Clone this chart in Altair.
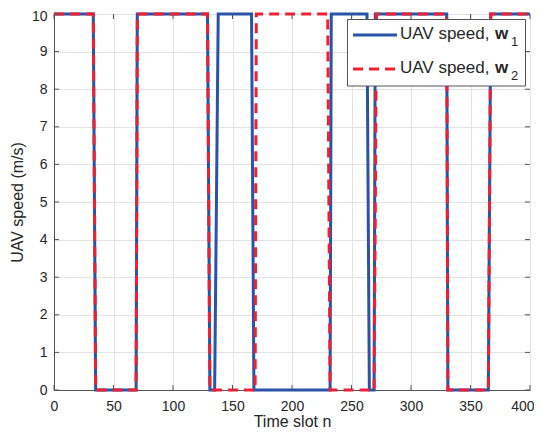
import altair as alt
import pandas as pd

# Data
w1_n = [0, 33, 35, 69, 70, 129, 131, 135, 138, 166, 168, 232, 233, 263, 265, 269, 270, 330, 331, 365, 367, 400]
w1_v = [10, 10, 0, 0, 10, 10, 0, 0, 10, 10, 0, 0, 10, 10, 0, 0, 10, 10, 0, 0, 10, 10]
w2_n = [0, 33, 35, 69, 70, 129, 131, 169, 170, 230, 232, 269, 271, 330, 331, 365, 367, 400]
w2_v = [10, 10, 0, 0, 10, 10, 0, 0, 10, 10, 0, 0, 10, 10, 0, 0, 10, 10]
x_ticks = [0, 50, 100, 150, 200, 250, 300, 350, 400]
y_ticks = [0, 1, 2, 3, 4, 5, 6, 7, 8, 9, 10]
series_labels = ["UAV speed, ", "UAV speed, "]

W, H = 476, 376
BLUE = "#2853A8"
RED = "#F02034"
AX = "#555555"
TXT = "#262626"
FONT = "Liberation Sans"

df1 = pd.DataFrame({"n": w1_n, "v": w1_v})
df2 = pd.DataFrame({"n": w2_n, "v": w2_v})
xt = pd.DataFrame({"n": x_ticks})
yt = pd.DataFrame({"v": y_ticks})
one = pd.DataFrame({"a": [0]})

xs = alt.Scale(domain=[0, 400], nice=False, zero=False)
ys = alt.Scale(domain=[0, 10], nice=False, zero=False)

axis_x = alt.Axis(values=x_ticks, title="Time slot n", grid=True, gridColor="#e3e3e3",
                  domainColor=AX, tickSize=0, labelFontSize=14, labelColor=TXT,
                  labelPadding=9, titleFontSize=16, titleFontWeight="normal",
                  titleColor=TXT, titlePadding=0, labelFont=FONT, titleFont=FONT,
                  labelOverlap=False,
                  labelAlign={"expr": "datum.value == 400 ? 'right' : 'center'"},
                  labelOffset={"expr": "datum.value == 400 ? 4 : 0"})
axis_y = alt.Axis(values=y_ticks, title="UAV speed (m/s)", grid=True, gridColor="#e3e3e3",
                  domainColor=AX, tickSize=0, labelFontSize=14, labelColor=TXT,
                  labelPadding=7, titleFontSize=16, titleFontWeight="normal",
                  titleColor=TXT, titlePadding=6, labelFont=FONT, titleFont=FONT,
                  labelOverlap=False,
                  labelOffset={"expr": "datum.value == 10 ? 2 : 0"})

X = alt.X("n:Q", scale=xs, axis=axis_x)
Y = alt.Y("v:Q", scale=ys, axis=axis_y)

line1 = alt.Chart(df1).mark_line(color=BLUE, strokeWidth=3, strokeJoin="miter").encode(x=X, y=Y)
line2 = alt.Chart(df2).mark_line(color=RED, strokeWidth=3, strokeDash=[10, 6]).encode(x=X, y=Y)

# inward ticks (MATLAB style box)
tb = alt.Chart(xt).mark_rule(color=AX, strokeWidth=1).encode(
    x=X, y=alt.value(H), y2=alt.value(H - 5))
tt = alt.Chart(xt).mark_rule(color=AX, strokeWidth=1).encode(
    x=X, y=alt.value(0), y2=alt.value(5))
tl = alt.Chart(yt).mark_rule(color=AX, strokeWidth=1).encode(
    y=Y, x=alt.value(0), x2=alt.value(5))
tr = alt.Chart(yt).mark_rule(color=AX, strokeWidth=1).encode(
    y=Y, x=alt.value(W), x2=alt.value(W - 5))

# custom legend
box = alt.Chart(one).mark_rect(fill="white", stroke=AX, strokeWidth=1).encode(
    x=alt.value(293.5), x2=alt.value(471.5), y=alt.value(5.5), y2=alt.value(72))
leg1 = alt.Chart(one).mark_rule(color=BLUE, strokeWidth=3).encode(
    x=alt.value(299), x2=alt.value(343), y=alt.value(21))
leg2 = alt.Chart(one).mark_rule(color=RED, strokeWidth=3, strokeDash=[10, 6]).encode(
    x=alt.value(299), x2=alt.value(343), y=alt.value(55))

def label(y, sub):
    t1 = alt.Chart(one).mark_text(align="left", baseline="middle", fontSize=17, font=FONT,
                                  color=TXT, text=series_labels[0]).encode(
        x=alt.value(346), y=alt.value(y))
    t2 = alt.Chart(one).mark_text(align="left", baseline="middle", fontSize=17, font=FONT,
                                  fontWeight="bold", color=TXT, text="w").encode(
        x=alt.value(441), y=alt.value(y))
    t3 = alt.Chart(one).mark_text(align="left", baseline="middle", fontSize=13, font=FONT,
                                  color=TXT, text=sub).encode(
        x=alt.value(457), y=alt.value(y + 8))
    return t1 + t2 + t3

chart = alt.layer(
    line1, line2, tb, tt, tl, tr, box, leg1, leg2, label(20, "1"), label(54, "2")
).properties(
    width=W, height=H,
    autosize=alt.AutoSizeParams(type="none"),
    padding={"left": 46, "top": 6, "right": 4, "bottom": 40},
).configure_view(stroke=AX, strokeWidth=1).configure(font=FONT)

chart.save("out.html", embed_options={"renderer": "svg", "actions": False})
